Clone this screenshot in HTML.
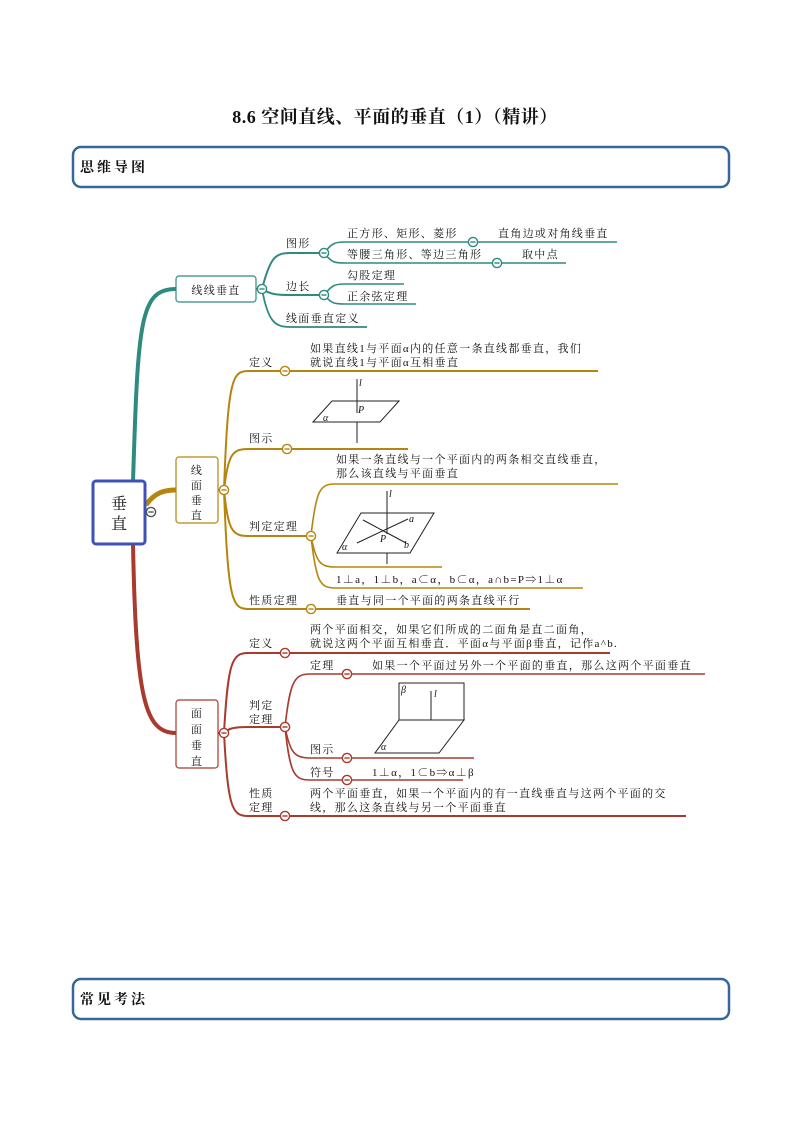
<!DOCTYPE html>
<html><head><meta charset="utf-8"><style>
body{margin:0;background:#fff}
svg{display:block}
text{font-family:"Liberation Serif","Noto Serif CJK SC",serif;font-size:11px;fill:#111;letter-spacing:1.3px}
.m{font-style:italic;font-size:10px;letter-spacing:0}
</style></head><body>
<svg width="794" height="1123" viewBox="0 0 794 1123" xmlns="http://www.w3.org/2000/svg">
<defs>
<g id="mn"><circle r="4.6" fill="#fff" stroke-width="1.4"/><line x1="-2.6" x2="2.6" y1="0" y2="0" stroke-width="1.4"/></g>
</defs>
<text x="395" y="123" text-anchor="middle" style="font-size:18px;font-weight:bold;letter-spacing:0.5px">8.6 空间直线、平面的垂直（1）（精讲）</text>
<rect x="73" y="147" width="656" height="40" rx="8" fill="#fff" stroke="#36679a" stroke-width="2.5"/>
<text x="80" y="172" style="font-size:14px;font-weight:bold;letter-spacing:3px">思维导图</text>
<rect x="73" y="979" width="656" height="40" rx="8" fill="#fff" stroke="#36679a" stroke-width="2.5"/>
<text x="80" y="1004" style="font-size:14px;font-weight:bold;letter-spacing:3px">常见考法</text>

<!-- teal -->
<g fill="none" stroke="#2f8a80">
<path d="M133,482 C138,320 140,289 176,289" stroke-width="4"/>
<path d="M256,289 L262,289" stroke-width="2"/>
<path d="M262,289 C270,258 275,253 290,253 L322,253" stroke-width="2"/>
<path d="M262,289 C270,294 275,295 290,295 L322,295" stroke-width="2"/>
<path d="M262,289 C268,322 275,327 290,327 L367,327" stroke-width="1.8"/>
<path d="M324,253 C332,243 335,242 345,242 L470,242 M476,242 L617,242" stroke-width="1.6"/>
<path d="M324,253 C332,263 335,263 345,263 L494,263 M500,263 L566,263" stroke-width="1.6"/>
<path d="M324,295 C332,285 335,284 345,284 L404,284" stroke-width="1.6"/>
<path d="M324,295 C332,304 335,304 345,304 L416,304" stroke-width="1.6"/>
</g>
<rect x="176" y="276" width="80" height="26" rx="3" fill="#fff" stroke="#2f8a80" stroke-width="1.2"/>
<text x="216" y="294" text-anchor="middle">线线垂直</text>
<g stroke="#2f8a80"><use href="#mn" x="262" y="289"/><use href="#mn" x="324" y="253"/><use href="#mn" x="324" y="295"/><use href="#mn" x="473" y="242"/><use href="#mn" x="497" y="263"/></g>
<text x="286" y="247">图形</text>
<text x="286" y="290">边长</text>
<text x="286" y="322">线面垂直定义</text>
<text x="347" y="237">正方形、矩形、菱形</text>
<text x="498" y="237">直角边或对角线垂直</text>
<text x="347" y="258">等腰三角形、等边三角形</text>
<text x="522" y="258">取中点</text>
<text x="347" y="279">勾股定理</text>
<text x="347" y="300">正余弦定理</text>

<!-- gold -->
<g fill="none" stroke="#b5860f">
<path d="M146,505 C155,492 165,490 176,490" stroke-width="5"/>
<path d="M218,490 L224,490" stroke-width="2"/>
<path d="M224,490 C228,380 232,371 248,371 L598,371" stroke-width="2"/>
<path d="M224,490 C228,455 232,449 248,449 L408,449" stroke-width="2"/>
<path d="M224,490 C228,530 232,536 248,536 L311,536" stroke-width="2"/>
<path d="M224,490 C228,600 232,609 248,609 L530,609" stroke-width="2"/>
<path d="M311,536 C316,490 320,484 335,484 L618,484" stroke-width="1.6"/>
<path d="M311,536 C316,562 320,567 335,567 L442,567" stroke-width="1.6"/>
<path d="M311,536 C316,582 320,588 335,588 L583,588" stroke-width="1.6"/>
</g>
<rect x="176" y="457" width="42" height="66" rx="3" fill="#fff" stroke="#b5860f" stroke-width="1.2"/>
<text x="197" y="474" text-anchor="middle">线</text>
<text x="197" y="489" text-anchor="middle">面</text>
<text x="197" y="504" text-anchor="middle">垂</text>
<text x="197" y="519" text-anchor="middle">直</text>
<g stroke="#b5860f"><use href="#mn" x="224" y="490"/><use href="#mn" x="285" y="371"/><use href="#mn" x="287" y="449"/><use href="#mn" x="311" y="536"/><use href="#mn" x="311" y="609"/></g>
<text x="249" y="366">定义</text>
<text x="249" y="442">图示</text>
<text x="249" y="530">判定定理</text>
<text x="249" y="604">性质定理</text>
<text x="310" y="352">如果直线1与平面α内的任意一条直线都垂直，我们</text>
<text x="310" y="366">就说直线1与平面α互相垂直</text>
<text x="336" y="463">如果一条直线与一个平面内的两条相交直线垂直，</text>
<text x="336" y="477">那么该直线与平面垂直</text>
<text x="336" y="583">1⊥a，1⊥b，a⊂α，b⊂α，a∩b=P⇒1⊥α</text>
<text x="336" y="604">垂直与同一个平面的两条直线平行</text>
<!-- diagram1 -->
<g stroke="#222" stroke-width="1" fill="none">
<polygon points="313,422 332,401 399,401 380,422" fill="#fff"/>
<line x1="357" y1="379" x2="357" y2="413"/><line x1="357" y1="422" x2="357" y2="443"/>
</g>
<text x="359" y="386" class="m">l</text><text x="358" y="413" class="m">P</text><text x="323" y="421" class="m">α</text>
<!-- diagram2 -->
<g stroke="#222" stroke-width="1" fill="none">
<polygon points="337,553 361,513 434,513 410,553" fill="#fff"/>
<line x1="387" y1="491" x2="387" y2="534"/><line x1="387" y1="553" x2="387" y2="564"/>
<line x1="363" y1="520" x2="406" y2="543"/><line x1="357" y1="543" x2="408" y2="519"/>
</g>
<text x="389" y="497" class="m">l</text><text x="409" y="522" class="m">a</text><text x="404" y="548" class="m">b</text><text x="380" y="542" class="m">P</text><text x="342" y="550" class="m">α</text>

<!-- red -->
<g fill="none" stroke="#a83a2e">
<path d="M133,544 C136,700 145,733 176,733" stroke-width="4"/>
<path d="M218,733 L224,733" stroke-width="2"/>
<path d="M224,733 C228,662 232,653 248,653 L610,653" stroke-width="2"/>
<path d="M224,733 C228,729 232,727 248,727 L285,727" stroke-width="2"/>
<path d="M224,733 C228,808 232,816 248,816 L686,816" stroke-width="2"/>
<path d="M285,727 C290,682 294,674 310,674 L705,674" stroke-width="1.6"/>
<path d="M285,727 C290,752 294,758 310,758 L474,758" stroke-width="1.6"/>
<path d="M285,727 C290,774 294,780 310,780 L463,780" stroke-width="1.6"/>
</g>
<rect x="176" y="700" width="42" height="68" rx="3" fill="#fff" stroke="#a83a2e" stroke-width="1.2"/>
<text x="197" y="717" text-anchor="middle">面</text>
<text x="197" y="733" text-anchor="middle">面</text>
<text x="197" y="749" text-anchor="middle">垂</text>
<text x="197" y="765" text-anchor="middle">直</text>
<g stroke="#a83a2e"><use href="#mn" x="224" y="733"/><use href="#mn" x="285" y="653"/><use href="#mn" x="285" y="727"/><use href="#mn" x="285" y="816"/><use href="#mn" x="347" y="674"/><use href="#mn" x="347" y="758"/><use href="#mn" x="347" y="780"/></g>
<text x="249" y="647">定义</text>
<text x="249" y="709">判定</text>
<text x="249" y="723">定理</text>
<text x="249" y="797">性质</text>
<text x="249" y="811">定理</text>
<text x="310" y="633">两个平面相交，如果它们所成的二面角是直二面角，</text>
<text x="310" y="647">就说这两个平面互相垂直．平面α与平面β垂直，记作a^b.</text>
<text x="310" y="669">定理</text>
<text x="372" y="669">如果一个平面过另外一个平面的垂直，那么这两个平面垂直</text>
<text x="310" y="753">图示</text>
<text x="310" y="776">符号</text>
<text x="372" y="776">1⊥α，1⊂b⇒α⊥β</text>
<text x="310" y="797">两个平面垂直，如果一个平面内的有一直线垂直与这两个平面的交</text>
<text x="310" y="811">线，那么这条直线与另一个平面垂直</text>
<!-- diagram3 -->
<g stroke="#222" stroke-width="1" fill="none">
<rect x="399" y="683" width="65" height="37"/>
<line x1="431" y1="691" x2="431" y2="720"/>
<polygon points="399,720 464,720 439,753 375,753"/>
</g>
<text x="401" y="693" class="m">β</text><text x="434" y="697" class="m">l</text><text x="381" y="750" class="m">α</text>

<!-- root -->
<rect x="93" y="481" width="52" height="63" rx="3" fill="#fff" stroke="#3f51b5" stroke-width="3"/>
<text x="119" y="509" text-anchor="middle" style="font-size:16px;letter-spacing:0">垂</text>
<text x="119" y="529" text-anchor="middle" style="font-size:16px;letter-spacing:0">直</text>
<g stroke="#555"><use href="#mn" x="151" y="512"/></g>
</svg>
</body></html>
